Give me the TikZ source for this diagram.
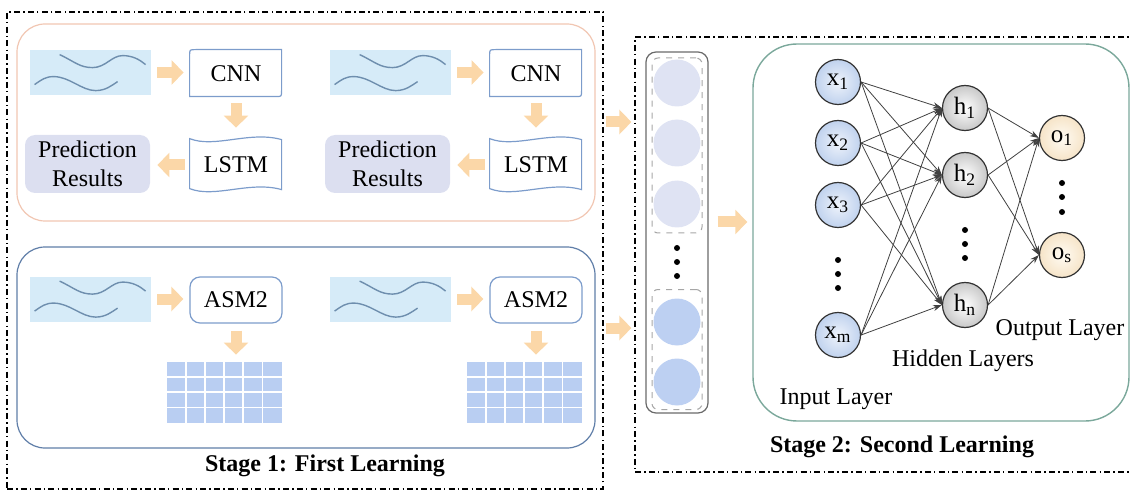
\documentclass[tikz,border=0pt]{standalone}
\usepackage{fontspec}
\setmainfont{Liberation Serif}
\usetikzlibrary{arrows.meta,calc}

\definecolor{sigfill}{HTML}{D6EBF8}
\definecolor{sigline}{HTML}{6E8EAE}
\definecolor{fatarrow}{HTML}{FBD7A8}
\definecolor{boxline}{HTML}{7C9CCB}
\definecolor{predfill}{HTML}{DCDFF0}
\definecolor{topline}{HTML}{F1C6B2}
\definecolor{botline}{HTML}{5F7EA8}
\definecolor{gridfill}{HTML}{B9CEF2}
\definecolor{lavcirc}{HTML}{DFE3F3}
\definecolor{bluecirc}{HTML}{BDD0F2}
\definecolor{nnline}{HTML}{7BA89B}
\definecolor{colline}{HTML}{6A6A6A}
\definecolor{inA}{HTML}{EEF3FB}
\definecolor{inB}{HTML}{C0D2EE}
\definecolor{hidB}{HTML}{C8C8C8}
\definecolor{outA}{HTML}{FFFBF3}
\definecolor{outB}{HTML}{F6E4C8}

\begin{document}
\begin{tikzpicture}[x=0.5pt,y=-0.5pt,
  font=\fontsize{12}{14.5}\selectfont,
  fat/.style={draw=fatarrow, line width=5.5pt, -{Triangle[length=6pt,width=12pt]}},
  sigbox/.style={fill=sigfill, minimum width=60.5pt, minimum height=22.5pt, inner sep=0pt},
  sigwave/.style={draw=sigline, line width=0.7pt},
  procbox/.style={minimum width=46pt, inner sep=0pt},
  boxdraw/.style={draw=boxline, line width=0.6pt},
  predbox/.style={fill=predfill, rounded corners=5pt, minimum width=62.5pt, minimum height=29pt, align=center, inner sep=0pt},
  gridbox/.style={fill=gridfill, minimum width=57.5pt, minimum height=30.5pt, inner sep=0pt},
  panel/.style={draw, line width=0.6pt, rounded corners=14pt},
  stageframe/.style={draw=black, line width=0.8pt, dash pattern=on 3pt off 1.6pt on 0.7pt off 1.6pt},
  colcirc/.style={circle, minimum size=23.5pt, inner sep=0pt},
  neuron/.style={circle, draw=black!80, line width=0.6pt, minimum size=22.5pt, inner sep=0pt, font=\fontsize{12.5}{14}\selectfont},
  inneuron/.style={neuron, inner color=inA, outer color=inB},
  hidneuron/.style={neuron, inner color=white, outer color=hidB},
  outneuron/.style={neuron, inner color=outA, outer color=outB},
  conn/.style={draw=black!75, line width=0.4pt, -{Stealth[length=4.5pt,width=3pt]}},
  dotc/.style={circle, fill=black, inner sep=0pt, minimum size=3pt},
  stagetitle/.style={font=\bfseries\fontsize{12}{14}\selectfont}
]
\useasboundingbox (0,0) rectangle (1131,492);
\clip (0,0) rectangle (1131,492);

% stage frames
\node[stageframe, minimum width=298pt, minimum height=238.5pt] (stage1) at (305,250.5) {};
\node[stageframe, minimum width=255pt, minimum height=217.5pt] (stage2) at (890,254.5) {};
\node[stagetitle] (t1) at (325,466) {Stage 1: First Learning};
\node[stagetitle] (t2) at (902,447) {Stage 2: Second Learning};

% panels
\node[panel, draw=topline, minimum width=289pt, minimum height=98.5pt] (top) at (306,122.5) {};
\node[panel, draw=botline, minimum width=289pt, minimum height=100.5pt] (bot) at (306,347.5) {};

\foreach \d/\k in {0/1,300/2}{
  % top group
  \node[sigbox] (sig\k) at (90.5+\d,72.5) {};
  \draw[sigwave, shift={(sig\k.north west)}] (30,5) .. controls (45,12) and (50,18) .. (63,18) .. controls (76,18) and (82,6) .. (93,6) .. controls (103,6) and (110,10) .. (116,15);
  \draw[sigwave, shift={(sig\k.north west)}] (5,35) .. controls (12,30) and (16,27) .. (24,27) .. controls (40,27) and (52,41) .. (66,41) .. controls (76,41) and (82,36) .. (88,32);
  \node[procbox, minimum height=23.5pt] (cnn\k) at (236+\d,73.5) {CNN};
  \draw[boxdraw, shift={(cnn\k.north west)}] (0,47) -- (0,6) .. controls (0,0) .. (6,0) -- (92,0) -- (92,41) .. controls (92,47) .. (86,47) -- cycle;
  \node[procbox, minimum height=28pt] (lstm\k) at (236+\d,165) {LSTM};
  \draw[boxdraw, shift={(lstm\k.north west)}] (0,2) .. controls (25,12) and (60,-6) .. (92,3) -- (92,53) .. controls (60,44) and (25,62) .. (0,52) -- cycle;
  \node[predbox] (pred\k) at (87.5+\d,164) {Prediction\\Results};
  \draw[fat, shorten <=3pt, shorten >=3pt] (sig\k.east) -- (sig\k.east -| cnn\k.west);
  \draw[fat, shorten <=3pt, shorten >=4.5pt] (cnn\k.south) -- (lstm\k.north);
  \draw[fat, shorten <=2.5pt, shorten >=3.5pt] (lstm\k.west) -- (lstm\k.west -| pred\k.east);
  % bottom group
  \node[sigbox] (sigb\k) at (90.5+\d,299) {};
  \draw[sigwave, shift={(sigb\k.north west)}] (30,5) .. controls (45,12) and (50,18) .. (63,18) .. controls (76,18) and (82,6) .. (93,6) .. controls (103,6) and (110,10) .. (116,15);
  \draw[sigwave, shift={(sigb\k.north west)}] (5,35) .. controls (12,30) and (16,27) .. (24,27) .. controls (40,27) and (52,41) .. (66,41) .. controls (76,41) and (82,36) .. (88,32);
  \node[procbox, minimum height=23pt, draw=boxline, rounded corners=5pt, line width=0.6pt] (asm\k) at (236+\d,300) {ASM2};
  \node[gridbox] (grid\k) at (224.5+\d,392.5) {};
  \foreach \i in {1,...,5}{
    \draw[white, line width=0.8pt] ($(grid\k.north west)+(\i*19.17,0)$) -- ++(0,61);
  }
  \foreach \j in {1,2,3}{
    \draw[white, line width=0.8pt] ($(grid\k.north west)+(0,\j*15.25)$) -- ++(115,0);
  }
  \draw[fat, shorten <=3pt, shorten >=3pt] (sigb\k.east) -- (sigb\k.east -| asm\k.west);
  \draw[fat, shorten <=3.5pt, shorten >=3.5pt] (asm\k.south) -- (asm\k.south |- grid\k.north);
}

% stage 2 column
\node[draw=colline, line width=0.6pt, rounded corners=5pt, minimum width=31pt, minimum height=180.5pt] (col) at (677,232.5) {};
\node[draw=black!35, dashed, line width=0.5pt, rounded corners=3pt, minimum width=25pt, minimum height=87.5pt] (ga) at (677,145.5) {};
\node[draw=black!35, dashed, line width=0.5pt, rounded corners=3pt, minimum width=25pt, minimum height=60pt] (gb) at (677,349.5) {};
\node[colcirc, fill=lavcirc] (c1) at (677,83) {};
\node[colcirc, fill=lavcirc] (c2) at (677,143) {};
\node[colcirc, fill=lavcirc] (c3) at (677,204) {};
\node[colcirc, fill=bluecirc] (c4) at (677,322) {};
\node[colcirc, fill=bluecirc] (c5) at (677,382) {};
\node[dotc] (cd1) at (677,248) {};
\node[dotc] (cd2) at (677,262) {};
\node[dotc] (cd3) at (677,276) {};

% arrows between stages
\coordinate (ya) at (0,122);
\coordinate (yb) at (0,328);
\coordinate (yc) at (0,222);
\draw[fat, shorten <=5pt, shorten >=7pt] (top.east |- ya) -- (col.west |- ya);
\draw[fat, shorten <=5pt, shorten >=7pt] (bot.east |- yb) -- (col.west |- yb);

% NN panel
\node[draw=nnline, line width=0.7pt, rounded corners=22pt, minimum width=188pt, minimum height=188.5pt] (nn) at (941,232.5) {};
\draw[fat, shorten <=4.5pt, shorten >=2.5pt] (col.east |- yc) -- (nn.west |- yc);

\node[inneuron] (x1) at (838,82) {x\textsubscript{1}};
\node[inneuron] (x2) at (838,143) {x\textsubscript{2}};
\node[inneuron] (x3) at (838,205) {x\textsubscript{3}};
\node[inneuron] (xm) at (838,335) {x\textsubscript{m}};
\node[hidneuron] (h1) at (965,108) {h\textsubscript{1}};
\node[hidneuron] (h2) at (965,175) {h\textsubscript{2}};
\node[hidneuron] (hn) at (965,305) {h\textsubscript{n}};
\node[outneuron] (o1) at (1062,138) {o\textsubscript{1}};
\node[outneuron] (os) at (1062,255) {o\textsubscript{s}};

\foreach \a in {x1,x2,x3,xm}{
  \foreach \b in {h1,h2,hn}{
    \draw[conn] (\a.east) -- (\b.west);
  }
}
\foreach \a in {h1,h2,hn}{
  \foreach \b in {o1,os}{
    \draw[conn] (\a.east) -- (\b.west);
  }
}

\node[dotc] (xd1) at (838,260) {};
\node[dotc] (xd2) at (838,274) {};
\node[dotc] (xd3) at (838,288) {};
\node[dotc] (hd1) at (965,230) {};
\node[dotc] (hd2) at (965,244) {};
\node[dotc] (hd3) at (965,258) {};
\node[dotc] (od1) at (1062,183) {};
\node[dotc] (od2) at (1062,197) {};
\node[dotc] (od3) at (1062,212) {};

\node (linput) at (836,399) {Input Layer};
\node (lhidden) at (963,361) {Hidden Layers};
\node (loutput) at (1060,330) {Output Layer};
\end{tikzpicture}
\end{document}
